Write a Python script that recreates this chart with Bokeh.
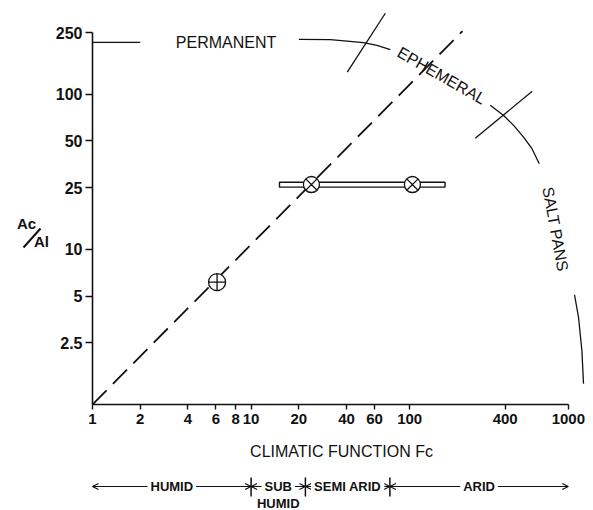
import math
from bokeh.plotting import figure
from bokeh.layouts import column, row
from bokeh.models import (Range1d, FixedTicker, CustomJSTickFormatter, Label,
                          Arrow, OpenHead, ColumnDataSource)
from bokeh.core.properties import value
from bokeh.embed import file_html
from bokeh.resources import INLINE

# ---------------- data ----------------
x_ticks = [1, 2, 4, 6, 8, 10, 20, 40, 60, 100, 400, 1000]
y_ticks = [2.5, 5, 10, 25, 50, 100, 250]

# dashed trend line Ac/Al vs Fc
trend_x = [1, 215]
trend_y = [1, 255]

# observed lake points
plus_x = [6.1]
plus_y = [6.15]
cross_x = [24, 104]
cross_y = [26.2, 26.2]

# range bar of the Fc estimate
bar_left = [15.1]
bar_right = [167]
bar_bottom = [25.2]
bar_top = [27.1]

# boundary curve between lake types (three drawn pieces)
perm_x = [1, 2]
perm_y = [216, 216]
arc1_x = [20, 31.6, 51.2, 62.2, 75.5]
arc1_y = [226, 225, 215, 207, 194]
arc2_x = [322, 391, 452, 522, 590, 656]
arc2_y = [85, 73, 63, 53, 44.6, 35.7]
arc3_x = [1094, 1160, 1218, 1247]
arc3_y = [5.1, 3.64, 2.23, 1.36]

# short lines crossing the curve (class limits)
limit_x0 = [70.2, 592]
limit_y0 = [333, 104.6]
limit_x1 = [40.4, 259]
limit_y1 = [139, 52]

# region labels
region_text = ["PERMANENT", "EPHEMERAL", "SALT PANS"]
region_x = [6.95, 158.7, 830]
region_y = [216, 132, 13.5]
region_angle = [0.0, -0.52, -1.39]

# climate zones along Fc
zone_edges = [1, 10, 22, 75, 1000]
zone_names = ["HUMID", "SUB", "SEMI ARID", "ARID"]
zone_sub = ["", "HUMID", "", ""]

FONT = "Liberation Sans"
INK = "#111111"

# ---------------- left strip: y label "Ac / Al" ----------------
LEFT_W = 50
pl = figure(width=LEFT_W, height=465, x_range=Range1d(0, LEFT_W),
            y_range=Range1d(404, 5), x_axis_location=None,
            y_axis_location=None, min_border=0, output_backend="svg",
            toolbar_location=None)
pl.grid.visible = False
pl.outline_line_color = None
pl.text(x=[26, 41], y=[223, 241], text=["Ac", "Al"], text_align="center",
        text_baseline="middle", text_font=value(FONT),
        text_font_size="15px", text_font_style="bold", text_color=INK)
pl.segment(x0=[23], y0=[247], x1=[40], y1=[228], line_color=INK,
           line_width=2)

# ---------------- main figure ----------------
DEC_X = 158.6   # px per decade (layout)
p = figure(width=593 - LEFT_W, height=465, x_axis_type="log",
           y_axis_type="log",
           x_range=Range1d(1, 1380), y_range=Range1d(1, 373.6),
           output_backend="svg", toolbar_location=None,
           min_border_left=92 - LEFT_W, min_border_right=3,
           min_border_top=5, min_border_bottom=61)
p.grid.visible = False
p.outline_line_color = None
p.background_fill_color = "white"

fmt = CustomJSTickFormatter(code="return String(tick);")

xa = p.xaxis[0]
xa.ticker = FixedTicker(ticks=x_ticks)
xa.formatter = fmt
xa.bounds = (1, 1000)
xa.axis_line_width = 1.6
xa.axis_line_color = INK
xa.major_tick_line_width = 1.4
xa.major_tick_line_color = INK
xa.major_tick_in = 0
xa.major_tick_out = 5
xa.minor_tick_line_color = None
xa.major_label_text_font = FONT
xa.major_label_text_font_size = "15px"
xa.major_label_text_font_style = "bold"
xa.major_label_text_color = INK
xa.major_label_standoff = 4
xa.axis_label = "CLIMATIC FUNCTION Fc"
xa.axis_label_text_font = FONT
xa.axis_label_text_font_size = "16px"
xa.axis_label_text_font_style = "normal"
xa.axis_label_text_color = INK
xa.axis_label_standoff = 16

ya = p.yaxis[0]
ya.ticker = FixedTicker(ticks=y_ticks)
ya.formatter = fmt
ya.bounds = (1, 250)
ya.axis_line_width = 1.6
ya.axis_line_color = INK
ya.major_tick_line_width = 1.4
ya.major_tick_line_color = INK
ya.major_tick_in = 0
ya.major_tick_out = 7
ya.minor_tick_line_color = None
ya.major_label_text_font = FONT
ya.major_label_text_font_size = "16px"
ya.major_label_text_font_style = "bold"
ya.major_label_text_color = INK
ya.major_label_standoff = 3

# boundary curve
p.multi_line(xs=[perm_x, arc1_x, arc2_x, arc3_x],
             ys=[perm_y, arc1_y, arc2_y, arc3_y],
             line_color=INK, line_width=1.3)
p.segment(x0=limit_x0, y0=limit_y0, x1=limit_x1, y1=limit_y1,
          line_color=INK, line_width=1.3)

# trend line
p.line(trend_x, trend_y, line_color=INK, line_width=1.8, line_dash="20 9")

# range bar and points
p.quad(left=bar_left, right=bar_right, bottom=bar_bottom, top=bar_top,
       fill_color="white", line_color=INK, line_width=1.4)
p.scatter(plus_x, plus_y, marker="circle_cross", size=17,
          fill_color="white", line_color=INK, line_width=1.3)
p.scatter(cross_x, cross_y, marker="circle_x", size=16,
          fill_color="white", line_color=INK, line_width=1.3)

# region labels
p.text(x=region_x, y=region_y, text=region_text, angle=region_angle,
       text_align="center", text_baseline="middle",
       text_font=value(FONT), text_font_size="16px", text_color=INK)

# ---------------- climate band ----------------
lo = 10 ** (-92 / DEC_X)
hi = 10 ** ((593 - 92) / DEC_X)
p2 = figure(width=593, height=45, x_axis_type="log",
            x_range=Range1d(lo, hi), y_range=Range1d(45, 0),
            x_axis_location=None, y_axis_location=None,
            output_backend="svg", toolbar_location=None, min_border=0,
            min_border_left=0, min_border_right=0)
p2.grid.visible = False
p2.outline_line_color = None

LINE_Y = 21
src = ColumnDataSource(dict(x0=zone_edges[:-1], x1=zone_edges[1:],
                            y=[LINE_Y] * (len(zone_edges) - 1)))
p2.add_layout(Arrow(start=OpenHead(size=6, line_width=1.2, line_color=INK),
                    end=OpenHead(size=6, line_width=1.2, line_color=INK),
                    x_start="x0", y_start="y", x_end="x1", y_end="y",
                    source=src, line_width=1.1, line_color=INK))
inner = zone_edges[1:-1]
p2.segment(x0=inner, y0=[12] * len(inner), x1=inner, y1=[31] * len(inner),
           line_color=INK, line_width=1.5)

for name, sub, a, b in zip(zone_names, zone_sub, zone_edges[:-1], zone_edges[1:]):
    xm = math.sqrt(a * b)
    p2.add_layout(Label(x=xm, y=LINE_Y, text=name, text_align="center",
                        text_baseline="middle", text_font=FONT,
                        text_font_size="13px", text_font_style="bold",
                        text_color=INK, background_fill_color="white",
                        padding=3))
    if sub:
        p2.add_layout(Label(x=xm, y=38, text=sub, text_align="center",
                            text_baseline="middle", text_font=FONT,
                            text_font_size="13px", text_font_style="bold",
                            text_color=INK))

layout = column(row(pl, p), p2)
open("out.html", "w").write(file_html(layout, INLINE))
